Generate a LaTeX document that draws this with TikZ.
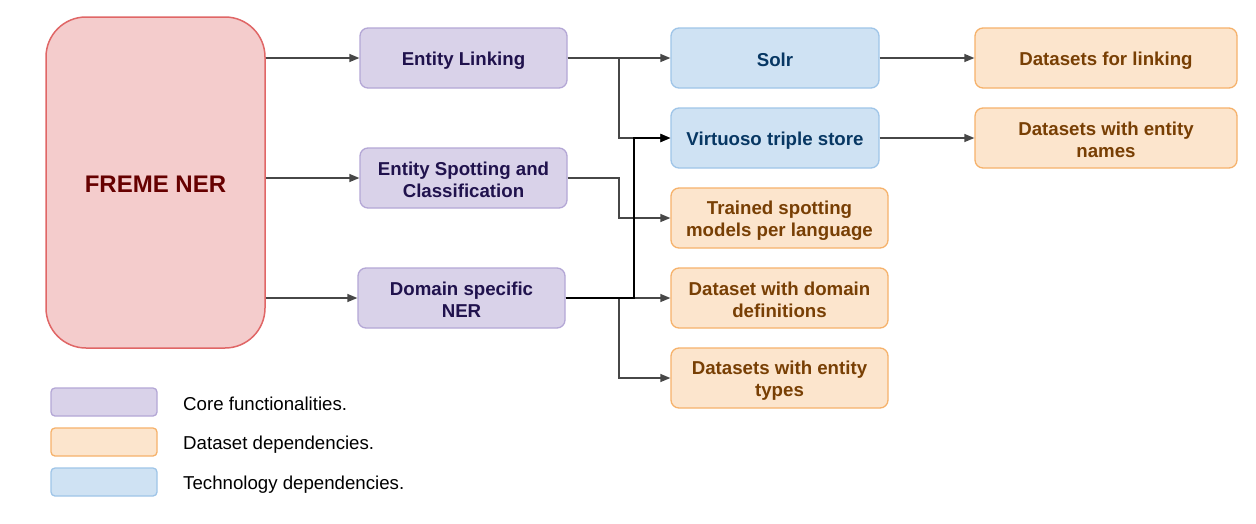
\documentclass[tikz,border=0pt]{standalone}
\usepackage{fontspec}
\setmainfont{Liberation Sans}
\usetikzlibrary{arrows.meta}
\definecolor{pfill}{HTML}{D9D2E9}
\definecolor{pdraw}{HTML}{B4A7D6}
\definecolor{ptext}{HTML}{20124D}
\definecolor{ofill}{HTML}{FCE5CD}
\definecolor{odraw}{HTML}{F6B26B}
\definecolor{otext}{HTML}{783F04}
\definecolor{bfill}{HTML}{CFE2F3}
\definecolor{bdraw}{HTML}{9FC5E8}
\definecolor{btext}{HTML}{073763}
\definecolor{rfill}{HTML}{F4CCCC}
\definecolor{rdraw}{HTML}{E06666}
\definecolor{rtext}{HTML}{660000}
\definecolor{lgray}{HTML}{474747}
\newcommand\mystrut{\rule[-0.193em]{0pt}{1.243em}}
\newcommand\topstrut{\rule{0pt}{1.05em}}
\newcommand\botstrut{\rule[-0.193em]{0pt}{0.193em}}
\tikzset{
  struts/.style={execute at begin node=\mystrut, execute at end node=\mystrut},
  boxbase/.style={rectangle, rounded corners=8pt, line width=1.3pt, minimum height=60pt,
    align=center, inner sep=0pt, font=\bfseries\fontsize{18.67}{22}\selectfont},
  core/.style={boxbase, fill=pfill, draw=pdraw, text=ptext, minimum width=207pt},
  tech/.style={boxbase, fill=bfill, draw=bdraw, text=btext, minimum width=208pt},
  dset/.style={boxbase, fill=ofill, draw=odraw, text=otext, minimum width=217pt},
  dsetw/.style={boxbase, fill=ofill, draw=odraw, text=otext, minimum width=262pt},
  legbox/.style={rectangle, rounded corners=4pt, line width=1.3pt, minimum width=106pt, minimum height=28pt, inner sep=0pt},
  legtext/.style={anchor=west, inner sep=0pt, struts, font=\fontsize{18.67}{22}\selectfont, text=black},
  conn/.style={draw=lgray, line width=1.3pt, -{Triangle[length=10pt,width=8pt]}, fill=none},
  connb/.style={draw=black, line width=2pt, -{Triangle[length=10pt,width=8pt]}, fill=none}
}
\begin{document}
\begin{tikzpicture}[x=1pt,y=-1pt]
\useasboundingbox[fill=white] (0,0) rectangle (1256,523);
% main block
\node[rectangle, rounded corners=40pt, fill=rfill, draw=rdraw, line width=1.5pt,
  minimum width=219pt, minimum height=331pt, inner sep=0pt, text=rtext, struts,
  font=\bfseries\fontsize{24}{28.8}\selectfont] (freme) at (155.5,182.5) {FREME NER};
% core
\node[core] (el) at (463.5,58) {\mystrut Entity Linking};
\node[core] (es) at (463.5,178) {\topstrut Entity Spotting and\\Classification\botstrut};
\node[core] (dn) at (461.5,298) {\topstrut Domain specific\\NER\botstrut};
% technology
\node[tech] (solr) at (775,58) {\mystrut Solr};
\node[tech] (virt) at (775,138) {\mystrut Virtuoso triple store};
% datasets
\node[dset] (tr) at (779.5,218) {\topstrut Trained spotting\\models per language\botstrut};
\node[dset] (dd) at (779.5,298) {\topstrut Dataset with domain\\definitions\botstrut};
\node[dset] (ty) at (779.5,378) {\topstrut Datasets with entity\\types\botstrut};
\node[dsetw] (dl) at (1106,58) {\mystrut Datasets for linking};
\node[dsetw] (dnm) at (1106,138) {\topstrut Datasets with entity\\names\botstrut};
% junction columns
\coordinate (ja) at (619,0);
\coordinate (jb) at (634,0);
% connectors
\draw[conn] (freme.east |- el.west) -- (el.west);
\draw[conn] (freme.east |- es.west) -- (es.west);
\draw[conn] (freme.east |- dn.west) -- (dn.west);
\draw[conn] (el.east) -- (solr.west);
\draw[conn] (el.east) -| (ja |- virt.west) -- (virt.west);
\draw[conn] (es.east) -| (ja |- tr.west) -- (tr.west);
\draw[conn] (dn.east) -- (dd.west);
\draw[conn] (dn.east) -| (ja |- ty.west) -- (ty.west);
\draw[conn] (solr.east) -- (dl.west);
\draw[conn] (virt.east) -- (dnm.west);
\draw[connb] (dn.east) -| (jb |- virt.west) -- (virt.west);
% legend
\node[legbox, fill=pfill, draw=pdraw] (lg1) at (104,402) {};
\node[legbox, fill=ofill, draw=odraw] (lg2) at (104,442) {};
\node[legbox, fill=bfill, draw=bdraw] (lg3) at (104,482) {};
\node[legtext] (lt1) at (183,402) {Core functionalities.};
\node[legtext] (lt2) at (183,442) {Dataset dependencies.};
\node[legtext] (lt3) at (183,482) {Technology dependencies.};
\end{tikzpicture}
\end{document}
